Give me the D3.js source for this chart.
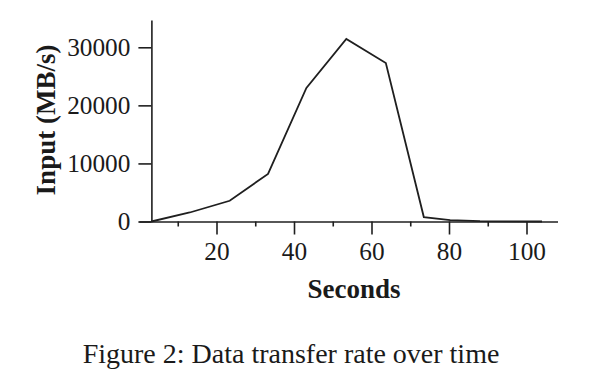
<!DOCTYPE html>
<html>
<head>
<meta charset="utf-8">
<script src="https://cdn.jsdelivr.net/npm/d3@7/dist/d3.min.js"></script>
<style>
  html, body { margin: 0; padding: 0; background: #fff; }
  svg { display: block; }
  text { font-family: "Liberation Serif", "Times New Roman", serif; fill: #1a1a1a; }
</style>
</head>
<body>
<svg id="chart" width="600" height="384"></svg>
<script>
// ---- data ----
const seconds = [3.2, 13.1, 23.4, 33.3, 43.2, 53.5, 63.7, 73.5, 80.3, 88, 96, 104];
const inputMBs = [0, 1550, 3570, 8200, 23000, 31450, 27300, 760, 250, 60, 20, 0];
const xTickValues = [20, 40, 60, 80, 100];
const xMinorTickValues = [10, 30, 50, 70, 90];
const yTickValues = [0, 10000, 20000, 30000];
const xLabel = "Seconds";
const yLabel = "Input (MB/s)";
const caption = "Figure 2: Data transfer rate over time";

// ---- layout ----
const svg = d3.select("#chart");
const ink = "#1f1f1f";

const x = d3.scaleLinear().domain([0, 108]).range([139, 557.5]);
const y = d3.scaleLinear().domain([0, 34700]).range([221.5, 20]);

// x axis (major)
const gx = svg.append("g").attr("transform", `translate(0,${y(0)})`)
  .call(d3.axisBottom(x).tickValues(xTickValues).tickFormat(d3.format("d"))
    .tickSizeInner(13).tickSizeOuter(0).tickPadding(8));
// x axis minor ticks
const gxm = svg.append("g").attr("transform", `translate(0,${y(0)})`)
  .call(d3.axisBottom(x).tickValues(xMinorTickValues).tickFormat("")
    .tickSizeInner(5).tickSizeOuter(0));
gxm.select(".domain").remove();

// y axis placed at first sample time
const gy = svg.append("g").attr("transform", `translate(${x(seconds[0])},0)`)
  .call(d3.axisLeft(y).tickValues(yTickValues).tickFormat(d3.format("d"))
    .tickSizeInner(13).tickSizeOuter(0).tickPadding(8));

[gx, gxm, gy].forEach(g => {
  g.selectAll("path, line").attr("stroke", ink).attr("stroke-width", 1.6);
  g.selectAll("text").style("font-family", '"Liberation Serif", "Times New Roman", serif')
    .style("font-size", "25.3px").attr("fill", "#1a1a1a");
});

// line
const line = d3.line().x((d, i) => x(seconds[i])).y(d => y(d));
svg.append("path").datum(inputMBs)
  .attr("d", line)
  .attr("fill", "none")
  .attr("stroke", ink)
  .attr("stroke-width", 1.8)
  .attr("stroke-linejoin", "miter");

// axis titles
svg.append("text")
  .attr("x", 354).attr("y", 298)
  .attr("text-anchor", "middle")
  .style("font-size", "27px").style("font-weight", "bold")
  .text(xLabel);

svg.append("text")
  .attr("transform", "translate(55,120) rotate(-90)")
  .attr("text-anchor", "middle")
  .style("font-size", "27px").style("font-weight", "bold")
  .text(yLabel);

// caption
svg.append("text")
  .attr("x", 291).attr("y", 363)
  .attr("text-anchor", "middle")
  .style("font-size", "28px")
  .text(caption);
</script>
</body>
</html>
